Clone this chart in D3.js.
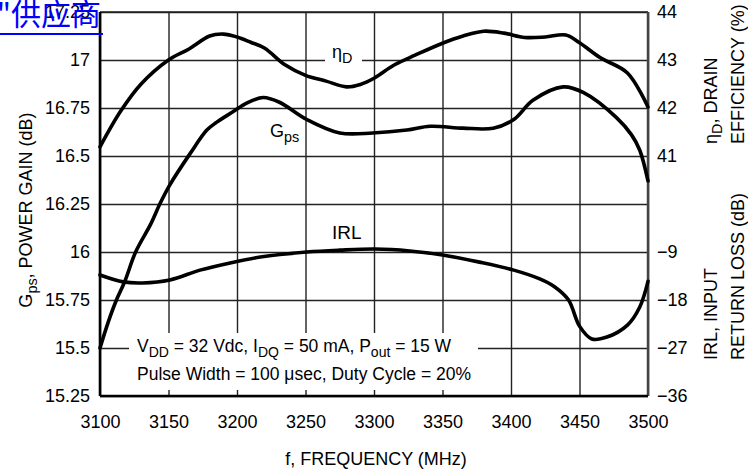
<!DOCTYPE html>
<html>
<head>
<meta charset="utf-8">
<script src="https://cdn.jsdelivr.net/npm/d3@7"></script>
<style>
  body { margin: 0; background: #fff; }
  svg { display: block; font-family: "Liberation Sans Narrow", "Arial Narrow", "Liberation Sans", sans-serif; }
</style>
</head>
<body>
<svg id="chart" width="748" height="472"></svg>
<script>
// tick values
const freqTicks = [3100, 3150, 3200, 3250, 3300, 3350, 3400, 3450, 3500];
const gainTicks = [15.25, 15.5, 15.75, 16, 16.25, 16.5, 16.75, 17, 17.25];
const effTicks = [41, 42, 43, 44];
const irlTicks = [-36, -27, -18, -9];

// Gps, power gain (dB) - left axis
const gpsFreq = [3100, 3106, 3112, 3118, 3126, 3137, 3144, 3151, 3166, 3178, 3185, 3197, 3207, 3219, 3231,
  3251, 3275, 3299, 3324, 3341, 3365, 3387, 3402, 3416, 3438, 3453, 3477, 3488, 3494, 3500];
const gpsValues = [15.5, 15.635, 15.75, 15.845, 16.0, 16.145, 16.255, 16.35, 16.515, 16.635, 16.675, 16.73, 16.775, 16.805, 16.78,
  16.69, 16.62, 16.62, 16.635, 16.655, 16.645, 16.645, 16.69, 16.79, 16.86, 16.83, 16.70, 16.61, 16.53, 16.37];

// drain efficiency (%) - right axis, top
const effFreq = [3100, 3115, 3130, 3150, 3165, 3180, 3190, 3200, 3210, 3220, 3235, 3250, 3265, 3280, 3290,
  3300, 3315, 3330, 3350, 3365, 3380, 3395, 3410, 3425, 3440, 3450, 3465, 3485, 3500];
const effValues = [41.19, 41.93, 42.5, 43.0, 43.23, 43.5, 43.54, 43.48, 43.37, 43.25, 42.9, 42.68, 42.56, 42.44, 42.49,
  42.62, 42.9, 43.1, 43.35, 43.5, 43.6, 43.56, 43.47, 43.48, 43.52, 43.36, 43.05, 42.73, 42.02];

// input return loss (dB) - right axis, bottom
const irlFreq = [3100, 3117, 3131, 3151, 3173, 3195, 3217, 3251, 3275, 3301, 3326, 3350, 3377, 3402, 3421,
  3432, 3442, 3450, 3459, 3470, 3485, 3494, 3500];
const irlValues = [-13.3, -14.6, -14.8, -14.25, -12.4, -11.05, -9.95, -9.0, -8.65, -8.45, -8.8, -9.55, -10.9, -12.4, -14.05,
  -15.55, -18.0, -22.9, -25.3, -24.95, -22.7, -19.3, -14.5];

const svg = d3.select('#chart');
const plotL = 100, plotR = 648, plotT = 12, plotB = 396;

const x = d3.scaleLinear().domain([3100, 3500]).range([plotL, plotR]);
const yGain = d3.scaleLinear().domain([15.25, 17.25]).range([plotB, plotT]);
const yEff = d3.scaleLinear().domain([36, 44]).range([plotB, plotT]);
const yIrl = d3.scaleLinear().domain([-36, 36]).range([plotB, plotT]);

/* grid ------------*/
svg.append('g')
  .attr('transform', `translate(0,${plotB})`)
  .call(d3.axisBottom(x).tickValues(freqTicks).tickSize(-(plotB - plotT)).tickFormat(''))
  .call(g => g.select('.domain').remove())
  .selectAll('line').attr('stroke', '#222').attr('stroke-width', 1.4);

svg.append('g')
  .attr('transform', `translate(${plotL},0)`)
  .call(d3.axisLeft(yGain).tickValues(gainTicks).tickSize(-(plotR - plotL)).tickFormat(''))
  .call(g => g.select('.domain').remove())
  .selectAll('line').attr('stroke', '#222').attr('stroke-width', 1.4);

// white boxes behind the labels on the grid
svg.append('rect').attr('x', 129).attr('y', 333).attr('width', 349).attr('height', 57).attr('fill', '#fff');
svg.append('rect').attr('x', 325).attr('y', 50).attr('width', 37).attr('height', 20).attr('fill', '#fff');

// frame
svg.append('line').attr('x1', plotL).attr('x2', plotR).attr('y1', plotT).attr('y2', plotT)
  .attr('stroke', '#222').attr('stroke-width', 1.6);
svg.append('line').attr('x1', plotR).attr('x2', plotR).attr('y1', plotT).attr('y2', plotB)
  .attr('stroke', '#444').attr('stroke-width', 2.5);
svg.append('line').attr('x1', plotL).attr('x2', plotR).attr('y1', plotB).attr('y2', plotB)
  .attr('stroke', '#000').attr('stroke-width', 2.6);
svg.append('line').attr('x1', plotL).attr('x2', plotL).attr('y1', plotT).attr('y2', plotB)
  .attr('stroke', '#000').attr('stroke-width', 2.6);

/* curves ------------*/
const curves = [
  {f: gpsFreq, v: gpsValues, y: yGain},
  {f: effFreq, v: effValues, y: yEff},
  {f: irlFreq, v: irlValues, y: yIrl}
];
curves.forEach(c => {
  const line = d3.line()
    .x((d, i) => x(c.f[i]))
    .y(d => c.y(d))
    .curve(d3.curveCatmullRom.alpha(0.5));
  svg.append('path')
    .attr('d', line(c.v))
    .attr('fill', 'none')
    .attr('stroke', '#000')
    .attr('stroke-width', 3.6)
    .attr('stroke-linejoin', 'round')
    .attr('stroke-linecap', 'round');
});

/* axes labels ------------*/
const fs = 18;
const styleAxis = g => {
  g.select('.domain').remove();
  g.selectAll('line').remove();
  g.selectAll('text').attr('font-size', fs).attr('font-family', null).attr('fill', '#000');
};

svg.append('g')
  .attr('transform', `translate(${plotL},0)`)
  .call(d3.axisLeft(yGain).tickValues(gainTicks).tickSize(0).tickPadding(10).tickFormat(d => d))
  .call(styleAxis);

svg.append('g')
  .attr('transform', `translate(${plotR},0)`)
  .call(d3.axisRight(yEff).tickValues(effTicks).tickSize(0).tickPadding(9).tickFormat(d3.format('d')))
  .call(styleAxis);

svg.append('g')
  .attr('transform', `translate(${plotR},0)`)
  .call(d3.axisRight(yIrl).tickValues(irlTicks).tickSize(0).tickPadding(9).tickFormat(d3.format('d')))
  .call(styleAxis);

svg.append('g')
  .attr('transform', `translate(0,${plotB})`)
  .call(d3.axisBottom(x).tickValues(freqTicks).tickSize(0).tickPadding(19).tickFormat(d => d))
  .call(styleAxis);

// helper for text with subscripts: the line after a subscript moves back up
function subText(g, parts, size) {
  const t = g.append('text').attr('font-size', size).attr('fill', '#000');
  const shift = size * 0.28;
  let down = false;
  parts.forEach(p => {
    if (p.sub) {
      t.append('tspan').attr('font-size', size * 0.8).attr('dy', shift).text(p.sub);
      down = true;
    } else {
      t.append('tspan').attr('dy', down ? -shift : 0).text(p.t);
      down = false;
    }
  });
  return t;
}

// x title
svg.append('text').attr('x', 376).attr('y', 465).attr('text-anchor', 'middle')
  .attr('font-size', fs).text('f, FREQUENCY (MHz)');

// left title
subText(svg.append('g').attr('transform', 'translate(32,210) rotate(-90)'),
  [{t: 'G'}, {sub: 'ps'}, {t: ', POWER GAIN (dB)'}], fs).attr('text-anchor', 'middle');

// right titles
subText(svg.append('g').attr('transform', 'translate(717,144) rotate(-90)'),
  [{t: 'η'}, {sub: 'D'}, {t: ', DRAIN'}], fs);
svg.append('text').attr('transform', 'translate(744,144) rotate(-90)')
  .attr('font-size', fs).text('EFFICIENCY (%)');
svg.append('text').attr('transform', 'translate(717,360) rotate(-90)')
  .attr('font-size', fs).text('IRL, INPUT');
svg.append('text').attr('transform', 'translate(744,360) rotate(-90)')
  .attr('font-size', fs).text('RETURN LOSS (dB)');

// curve labels
subText(svg.append('g').attr('transform', 'translate(332,58)'), [{t: 'η'}, {sub: 'D'}], fs);
subText(svg.append('g').attr('transform', 'translate(270,137)'), [{t: 'G'}, {sub: 'ps'}], fs);
svg.append('text').attr('x', 332).attr('y', 239).attr('font-size', 19).text('IRL');

// conditions
subText(svg.append('g').attr('transform', 'translate(137,352)'),
  [{t: 'V'}, {sub: 'DD'}, {t: ' = 32 Vdc, I'}, {sub: 'DQ'}, {t: ' = 50 mA, P'}, {sub: 'out'}, {t: ' = 15 W'}], 17.5);
svg.append('text').attr('x', 137).attr('y', 380).attr('font-size', 17.5)
  .text('Pulse Width = 100 μsec, Duty Cycle = 20%');

// link text at top left
svg.append('text').attr('x', 101).attr('y', 25).attr('text-anchor', 'end')
  .attr('font-family', '"Noto Sans CJK SC", sans-serif').attr('font-size', 30).attr('fill', '#0000ff')
  .text('"供应商');
svg.append('line').attr('x1', 0).attr('x2', 103).attr('y1', 34).attr('y2', 34)
  .attr('stroke', '#0000ff').attr('stroke-width', 2);
</script>
</body>
</html>
